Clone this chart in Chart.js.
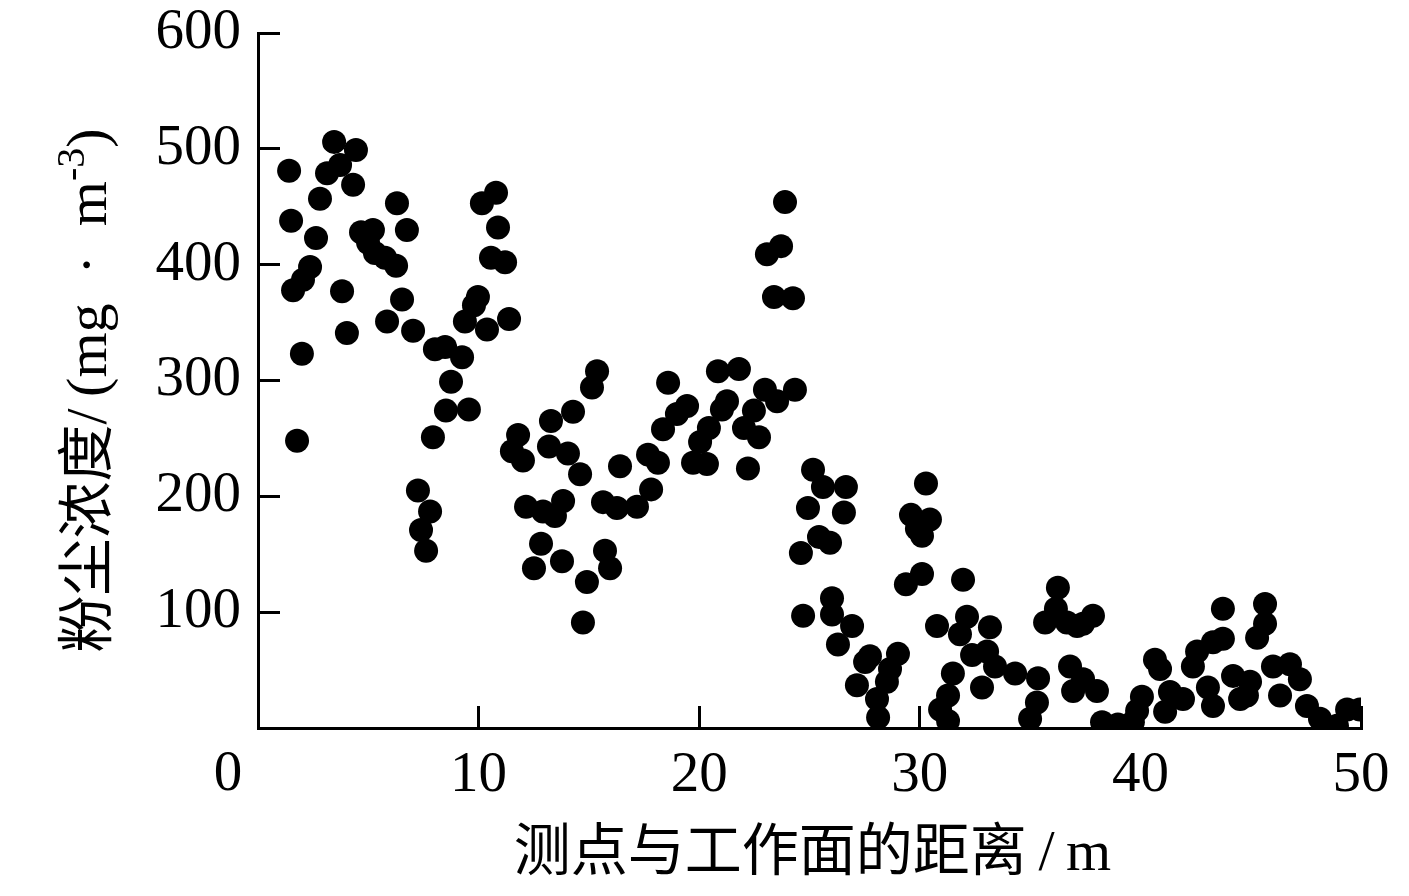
<!DOCTYPE html>
<html><head><meta charset="utf-8">
<script src="https://cdn.jsdelivr.net/npm/chart.js@4.4.0/dist/chart.umd.min.js"></script>
<style>html,body{margin:0;padding:0;background:#fff;}#wrap{width:1409px;height:896px;}</style>
</head><body><div id="wrap"><canvas id="c" width="1409" height="896"></canvas></div>
<script>
const distance = [1.41,1.50,1.59,1.77,1.99,2.04,2.36,2.63,2.81,3.13,
3.45,3.72,3.81,4.03,4.31,4.44,4.67,4.99,5.21,5.30,
5.76,5.85,6.26,6.30,6.53,6.75,7.03,7.25,7.39,7.62,
7.80,7.93,8.02,8.48,8.52,8.75,9.25,9.38,9.56,9.79,
9.97,10.15,10.79,10.88,10.56,11.20,10.38,11.38,11.79,11.51,
12.01,12.15,12.92,13.46,13.83,12.83,12.51,13.78,13.28,13.19,
14.05,14.28,14.60,14.73,14.91,15.14,15.37,15.64,15.73,15.96,
16.27,16.41,17.18,17.68,17.82,18.13,18.36,18.59,18.99,19.45,
19.72,20.04,20.35,20.44,20.85,21.03,21.26,21.80,22.03,22.21,
22.48,22.71,22.98,23.07,23.39,23.53,23.71,23.89,24.25,24.34,
24.61,24.71,24.93,25.16,25.43,25.61,25.93,26.02,26.02,26.56,
26.65,26.29,26.93,27.15,27.52,27.74,28.06,28.11,28.51,28.65,
29.01,29.37,29.60,29.87,30.10,30.10,30.28,30.46,30.78,30.92,
31.28,31.28,31.50,31.82,31.96,32.14,32.37,33.05,33.18,32.82,
33.41,34.32,35.36,35.31,35.00,35.68,36.26,36.17,36.67,37.13,
36.81,36.95,37.40,38.03,37.85,37.40,38.26,38.98,39.66,39.85,
40.07,40.66,40.89,41.12,41.34,41.93,42.57,42.38,43.06,43.29,
43.29,43.74,43.74,44.20,44.97,44.83,44.52,45.65,45.65,45.29,
46.01,46.78,47.23,46.33,47.55,48.14,48.91,49.37,49.95];
const dust = [481,438,378,248,323,387,398,423,457,479,
506,486,377,341,469,499,428,419,430,410,
406,351,399,453,370,430,343,205,171,153,
187,251,327,329,274,299,320,351,275,365,
372,453,462,432,406,402,344,353,253,239,
231,191,187,183,196,159,138,144,265,243,
237,273,219,91,126,294,308,195,153,138,
190,226,191,236,206,229,258,298,271,278,
229,247,228,259,308,275,282,310,259,224,
274,251,292,409,372,282,416,454,371,292,
151,97,190,223,165,208,160,112,98,186,
208,72,88,37,57,62,25,9,40,51,
64,124,184,172,166,133,211,180,88,16,
28,6,47,81,128,96,63,66,87,35,
53,47,43,22,8,91,121,103,91,88,
53,32,42,32,97,90,5,3,5,15,
27,59,51,14,31,25,66,53,35,19,
74,77,103,45,40,28,25,107,90,78,
53,55,42,28,19,8,2,16,16];
const xRange = [0, 50];
const yRange = [0, 600];
const xStep = 10;
const yStep = 100;
const originLabel = '0';
const xTitleCJK = '测点与工作面的距离';
const xTitleUnit = '\u2009/\u2009m';
const yTitleCJK = '粉尘浓度';
const yTitleUnit = '/\u2009(mg\u2002·\u2002m';
const yTitleSup = '-3';
const yTitleEnd = ')';

const SERIF = '"Liberation Serif", "Times New Roman", serif';
const CJK = '"Noto Sans CJK SC", sans-serif';
const points = distance.map((d, i) => ({x: d, y: dust[i]}));

function drawRun(ctx, parts, cx, cy) {
  let total = 0;
  parts.forEach(p => { ctx.font = p.font; p.w = ctx.measureText(p.text).width; total += p.w; });
  let x = cx - total / 2;
  ctx.textAlign = 'left';
  ctx.textBaseline = 'alphabetic';
  parts.forEach(p => { ctx.font = p.font; ctx.fillText(p.text, x, cy - (p.rise || 0)); x += p.w; });
}

const titlesPlugin = {
  id: 'titles',
  afterDraw(chart) {
    const ctx = chart.ctx;
    const ca = chart.chartArea;
    const xs = chart.scales.x;
    ctx.save();
    ctx.fillStyle = '#000';
    ctx.font = '57px ' + SERIF;
    ctx.textAlign = 'center';
    ctx.textBaseline = 'middle';
    ctx.fillText(originLabel, xs.getPixelForValue(0) - 30, ca.bottom + 47);
    // x title
    drawRun(ctx, [
      {text: xTitleCJK, font: '57px ' + CJK},
      {text: xTitleUnit, font: '58px ' + SERIF}
    ], (ca.left + ca.right) / 2 + 3, ca.bottom + 142);
    // y title
    ctx.translate(86, (ca.top + ca.bottom) / 2 + 10);
    ctx.rotate(-Math.PI / 2);
    drawRun(ctx, [
      {text: yTitleCJK, font: '57px ' + CJK},
      {text: yTitleUnit, font: '58px ' + SERIF},
      {text: yTitleSup, font: '40px ' + SERIF, rise: 22},
      {text: yTitleEnd, font: '58px ' + SERIF}
    ], 0, 20);
    ctx.restore();
  }
};

new Chart(document.getElementById('c'), {
  type: 'scatter',
  data: { datasets: [{ data: points, backgroundColor: '#000', borderWidth: 0, pointRadius: 12, pointHoverRadius: 12 }] },
  options: {
    responsive: false, animation: false, devicePixelRatio: 1,
    layout: { padding: { left: 0, right: 48, top: 33, bottom: 0 } },
    plugins: { legend: { display: false }, tooltip: { enabled: false } },
    scales: {
      x: {
        type: 'linear', min: xRange[0], max: xRange[1],
        afterFit(s) { s.height = 168; s.paddingLeft = 0; s.paddingRight = 0; },
        ticks: { stepSize: xStep, color: '#000', padding: 36, maxRotation: 0,
          font: { family: SERIF, size: 57 }, callback: v => v === 0 ? '' : String(v) },
        grid: { drawOnChartArea: false, drawTicks: true, tickLength: -22, lineWidth: 3, color: '#000' },
        border: { display: true, color: '#000', width: 3 }
      },
      y: {
        type: 'linear', min: yRange[0], max: yRange[1],
        afterFit(s) { s.width = 258; s.paddingTop = 0; s.paddingBottom = 0; },
        ticks: { stepSize: yStep, color: '#000', padding: 39,
          font: { family: SERIF, size: 57 }, callback: v => v === 0 ? '' : String(v) },
        grid: { drawOnChartArea: false, drawTicks: true, tickLength: -22, lineWidth: 3, color: '#000' },
        border: { display: true, color: '#000', width: 3 }
      }
    }
  },
  plugins: [titlesPlugin]
});
</script>
</body></html>
